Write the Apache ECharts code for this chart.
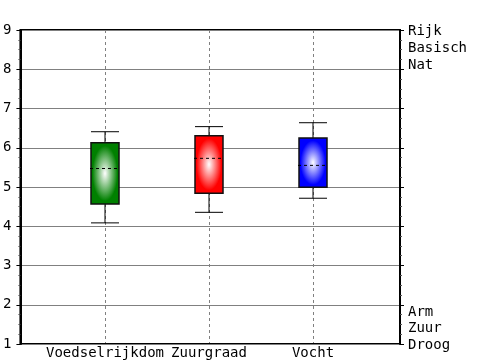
<!DOCTYPE html>
<html>
<head>
<meta charset="utf-8">
<script src="https://cdn.jsdelivr.net/npm/echarts@6/dist/echarts.min.js"></script>
<style>html,body{margin:0;padding:0;background:#fff;}#c{width:500px;height:360px;}</style>
</head>
<body>
<div id="c"></div>
<script>
const categories = ['Voedselrijkdom', 'Zuurgraad', 'Vocht'];
const lowWhisker = [4.07, 4.34, 4.70];
const q1Values = [4.55, 4.83, 4.98];
const medianValues = [5.46, 5.72, 5.54];
const q3Values = [6.12, 6.30, 6.24];
const highWhisker = [6.40, 6.53, 6.63];
const yTicks = [1, 2, 3, 4, 5, 6, 7, 8, 9];
const topLabels = ['Rijk', 'Basisch', 'Nat'];
const bottomLabels = ['Arm', 'Zuur', 'Droog'];
const boxColors = ['#008000', '#ff0000', '#0000ff'];

const FONT = 'DejaVu Sans Mono';
const chart = echarts.init(document.getElementById('c'), null, {renderer: 'canvas'});

const boxData = categories.map((c, i) => [i, lowWhisker[i], q1Values[i], medianValues[i], q3Values[i], highWhisker[i]]);

function renderItem(params, api) {
  const i = api.value(0);
  const cx = api.coord([i, 0])[0];
  const yLo = api.coord([i, api.value(1)])[1];
  const yQ1 = api.coord([i, api.value(2)])[1];
  const yMed = api.coord([i, api.value(3)])[1];
  const yQ3 = api.coord([i, api.value(4)])[1];
  const yHi = api.coord([i, api.value(5)])[1];
  const w = 28;
  const h = yQ1 - yQ3;
  const color = boxColors[i];
  const lineStyle = {stroke: '#000', lineWidth: 1, fill: null};
  return {
    type: 'group',
    children: [
      {type: 'line', shape: {x1: cx, y1: yHi, x2: cx, y2: yQ3}, style: lineStyle},
      {type: 'line', shape: {x1: cx - w / 2, y1: yHi, x2: cx + w / 2, y2: yHi}, style: lineStyle},
      {type: 'line', shape: {x1: cx, y1: yQ1, x2: cx, y2: yLo}, style: lineStyle},
      {type: 'line', shape: {x1: cx - w / 2, y1: yLo, x2: cx + w / 2, y2: yLo}, style: lineStyle},
      {
        type: 'rect',
        x: cx, y: (yQ1 + yQ3) / 2,
        scaleY: h / w,
        shape: {x: -w / 2, y: -w / 2, width: w, height: w},
        style: {
          fill: new echarts.graphic.RadialGradient(0.5, 0.5, 0.5, [
            {offset: 0, color: '#ffffff'},
            {offset: 0.9, color: color},
            {offset: 1, color: color}
          ])
        }
      },
      {type: 'rect', shape: {x: cx - w / 2, y: yQ3, width: w, height: h}, style: {fill: null, stroke: '#111', lineWidth: 1.5}},
      {type: 'line', shape: {x1: cx - w / 2 - 1, y1: yMed, x2: cx + w / 2, y2: yMed}, style: {stroke: '#000', lineWidth: 1, lineDash: [3, 3]}}
    ]
  };
}

const graphics = [];
topLabels.forEach((t, k) => graphics.push({type: 'text', left: 408, top: 32 + k * 17 - 8, style: {text: t, font: '14px "' + FONT + '"', fill: '#000'}}));
bottomLabels.forEach((t, k) => graphics.push({type: 'text', left: 408, top: 313 + k * 16.5 - 8, style: {text: t, font: '14px "' + FONT + '"', fill: '#000'}}));

const option = {
  animation: false,
  backgroundColor: '#fff',
  textStyle: {fontFamily: FONT},
  grid: [
    {left: 17, right: 100, top: 30, bottom: 16, show: true, borderColor: '#000', borderWidth: 2, backgroundColor: 'transparent'},
    {left: 105, right: 187, top: 30, bottom: 16}
  ],
  xAxis: [
    {gridIndex: 0, type: 'value', min: 0, max: 1, axisLine: {show: false}, axisTick: {show: false}, axisLabel: {show: false}, splitLine: {show: false}},
    {gridIndex: 1, type: 'category', data: categories, boundaryGap: false,
      axisLine: {show: false}, axisTick: {show: false},
      axisLabel: {interval: 0, margin: 3, color: '#000', fontSize: 14, fontFamily: FONT},
      splitLine: {show: true, interval: 0, lineStyle: {color: '#808080', type: [3, 3], width: 1}}}
  ],
  yAxis: [
    {gridIndex: 0, type: 'value', min: 1, max: 9, interval: 1, position: 'left',
      axisLine: {show: true, lineStyle: {color: '#000', width: 2}},
      axisTick: {show: true, length: 4, lineStyle: {color: '#000'}},
      minorTick: {show: true, splitNumber: 4, length: 2, lineStyle: {color: '#555'}},
      axisLabel: {color: '#000', fontSize: 14, fontFamily: FONT, margin: 9, formatter: v => yTicks.includes(v) ? String(v) : ''},
      splitLine: {show: true, lineStyle: {color: '#808080', width: 1}}},
    {gridIndex: 0, type: 'value', min: 1, max: 9, interval: 1, position: 'right',
      axisLine: {show: true, lineStyle: {color: '#000', width: 2}},
      axisTick: {show: true, length: 4, lineStyle: {color: '#000'}},
      minorTick: {show: true, splitNumber: 4, length: 2, lineStyle: {color: '#555'}},
      axisLabel: {show: false}, splitLine: {show: false}},
    {gridIndex: 1, type: 'value', min: 1, max: 9, show: false}
  ],
  series: [{
    type: 'custom',
    xAxisIndex: 1, yAxisIndex: 2,
    renderItem: renderItem,
    encode: {x: 0, y: [1, 2, 3, 4, 5]},
    data: boxData,
    z: 5
  }],
  graphic: graphics
};
chart.setOption(option);
</script>
</body>
</html>
